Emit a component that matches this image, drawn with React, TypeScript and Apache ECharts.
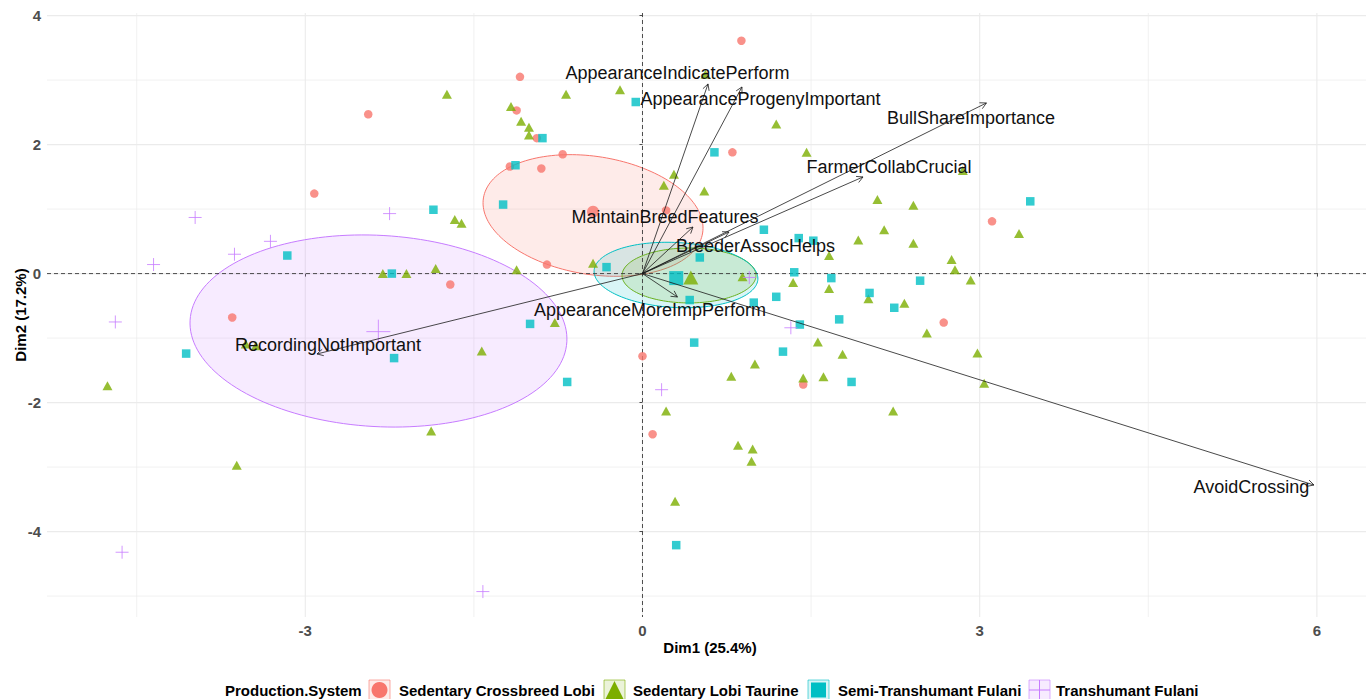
import React, { useEffect, useRef } from "react";
import * as echarts from "echarts";

const FONT = '"Liberation Sans", Arial, Helvetica, sans-serif';

const groupNames = [
  "Sedentary Crossbreed Lobi",
  "Sedentary Lobi Taurine",
  "Semi-Transhumant Fulani",
  "Transhumant Fulani",
];
const groupColors = ["#F8766D", "#7CAE00", "#00BFC4", "#C77CFF"];

const crossbreedLobi: number[][] = [
  [0.88, 3.61], [-1.09, 3.05], [-2.44, 2.47], [-1.12, 2.53], [-0.94, 2.1],
  [0.8, 1.88], [-0.71, 1.85], [-1.18, 1.66], [-0.9, 1.63], [-2.92, 1.24],
  [0.21, 0.98], [-0.85, 0.14], [-1.71, -0.17], [-3.65, -0.68], [0.0, -1.28],
  [0.09, -2.49], [1.43, -1.72], [2.68, -0.76], [3.11, 0.81],
];

const lobiTaurine: number[][] = [
  [-1.74, 2.78], [-0.68, 2.78], [-0.2, 2.85], [0.56, 3.09], [-1.17, 2.59],
  [-1.08, 2.36], [-1.01, 2.27], [-1.01, 2.15], [1.19, 2.32], [1.46, 1.88],
  [0.28, 1.54], [0.19, 1.37], [0.55, 1.28], [2.85, 1.6], [2.09, 1.15],
  [2.41, 1.06], [2.15, 0.68], [1.92, 0.52], [2.41, 0.47], [1.66, 0.28],
  [2.75, 0.22], [2.78, 0.06], [2.92, -0.1], [3.35, 0.62], [0.89, -0.05],
  [1.34, -0.14], [1.66, -0.23], [2.01, -0.39], [2.33, -0.46], [2.53, -0.92],
  [1.56, -1.06], [1.78, -1.25], [2.98, -1.23], [3.04, -1.7], [1.0, -1.4],
  [0.79, -1.59], [1.43, -1.62], [1.61, -1.6], [2.23, -2.13], [0.21, -2.13],
  [0.85, -2.66], [0.98, -2.72], [0.97, -2.91], [0.29, -3.53], [-0.44, 0.16],
  [-1.12, 0.06], [-0.78, -0.76], [-1.43, -1.2], [-1.67, 0.84], [-1.61, 0.78],
  [-1.84, 0.08], [-2.1, 0.0], [-2.31, 0.0], [-3.53, -1.09], [-3.44, -1.12],
  [-4.76, -1.74], [-3.61, -2.97], [-1.88, -2.44],
];

const semiTranshumant: number[][] = [
  [-0.06, 2.66], [-0.89, 2.1], [0.64, 1.88], [-1.13, 1.68], [-1.24, 1.07],
  [-1.86, 0.99], [-3.16, 0.28], [-2.23, 0.0], [-0.32, 0.1], [-1.0, -0.78],
  [-4.06, -1.24], [-2.21, -1.31], [-0.67, -1.68], [0.3, -4.21], [0.51, 0.25],
  [1.08, 0.68], [1.39, 0.55], [1.52, 0.51], [1.35, 0.02], [1.68, -0.07],
  [2.47, -0.11], [2.02, -0.3], [2.24, -0.53], [0.42, -0.41], [1.19, -0.36],
  [0.99, -0.45], [1.75, -0.71], [1.4, -0.79], [0.46, -1.07], [1.25, -1.21],
  [1.86, -1.68], [3.45, 1.12],
];

const transhumant: number[][] = [
  [-3.98, 0.87], [-2.25, 0.93], [-3.31, 0.5], [-3.63, 0.3], [-4.35, 0.14],
  [-4.69, -0.75], [-4.63, -4.32], [-1.42, -4.93], [0.17, -1.8], [1.32, -0.84],
  [0.95, -0.06],
];

const groupMeans: number[][] = [
  [-0.44, 0.96], [0.43, -0.06], [0.3, -0.07], [-2.35, -0.9],
];

// confidence ellipses: centre and two conjugate semi-axis vectors (data units)
const ellipseCenters: number[][] = [
  [-0.44, 0.901], [0.414, -0.029], [0.298, -0.022], [-2.349, -0.89],
];
const ellipseAxisU: number[][] = [
  [0.975, -0.272], [0.596, 0.0], [0.7285, -0.0665], [1.676, -0.167],
];
const ellipseAxisV: number[][] = [
  [-0.083, -0.903], [0.0, -0.426], [-0.0151, -0.5032], [-0.0485, -1.48],
];

const variableNames = [
  "AppearanceIndicatePerform",
  "AppearanceProgenyImportant",
  "BullShareImportance",
  "FarmerCollabCrucial",
  "MaintainBreedFeatures",
  "BreederAssocHelps",
  "AppearanceMoreImpPerform",
  "RecordingNotImportant",
  "AvoidCrossing",
];
const variableCoords: number[][] = [
  [0.583, 2.94], [0.885, 2.893], [3.06, 2.645], [1.962, 1.498], [0.449, 0.722],
  [0.77, 0.645], [0.311, -0.363], [-2.896, -1.246], [5.974, -3.278],
];

const xTicks = [-3, 0, 3, 6];
const yTicks = [-4, -2, 0, 2, 4];
const xMinor = [-4.5, -1.5, 1.5, 4.5];
const yMinor = [-5, -3, -1, 1, 3];

const X_MIN = -5.298;
const X_MAX = 6.437;
const Y_MIN = -5.324;
const Y_MAX = 4.04;

// label offsets (pixels) relative to arrow tips
const labelOffsets: number[][] = [
  [-30.5, -11], [18.5, 12], [-15.5, 15], [26, -10], [-28, -10],
  [26.5, 14], [-27.5, 13], [11, -9], [-62.5, 2],
];

const legendKeyX = [369, 604, 808, 1029];
const legendLabelX = [399, 633, 838, 1056];

function rgba(hex: string, a: number) {
  const r = parseInt(hex.slice(1, 3), 16);
  const g = parseInt(hex.slice(3, 5), 16);
  const b = parseInt(hex.slice(5, 7), 16);
  return `rgba(${r},${g},${b},${a})`;
}

const PLUS = "path://M6,0L6,12M0,6L12,6";
const groupData = [crossbreedLobi, lobiTaurine, semiTranshumant, transhumant];
const groupSymbols = ["circle", "triangle", "rect", PLUS];
const groupSizes: any[] = [8.5, [10, 9], 8.5, 13];
const meanSizes: any[] = [12, [15, 14], 14, 24];
const ELLIPSE_ALPHA = 0.15;

function pointStyle(i: number) {
  if (i === 3) {
    return { color: "rgba(0,0,0,0)", borderColor: groupColors[i], borderWidth: 1 };
  }
  return { color: groupColors[i], borderWidth: 0 };
}

function buildOption() {
  const series: any[] = [];

  // grid lines
  series.push({
    type: "custom",
    z: 0,
    silent: true,
    data: [[0, 0]],
    renderItem: (params: any, api: any) => {
      const cs = params.coordSys;
      const children: any[] = [];
      const vline = (v: number, w: number) => {
        const x = api.coord([v, 0])[0];
        children.push({
          type: "line",
          shape: { x1: x, y1: cs.y, x2: x, y2: cs.y + cs.height },
          style: { stroke: "#EBEBEB", lineWidth: w },
        });
      };
      const hline = (v: number, w: number) => {
        const y = api.coord([0, v])[1];
        children.push({
          type: "line",
          shape: { x1: cs.x, y1: y, x2: cs.x + cs.width, y2: y },
          style: { stroke: "#EBEBEB", lineWidth: w },
        });
      };
      xMinor.forEach((v) => vline(v, 0.7));
      yMinor.forEach((v) => hline(v, 0.7));
      xTicks.forEach((v) => vline(v, 1.1));
      yTicks.forEach((v) => hline(v, 1.1));
      return { type: "group", children };
    },
  });

  // ellipses
  ellipseCenters.forEach((c, gi) => {
    series.push({
      type: "custom",
      z: 2,
      silent: true,
      data: [c],
      renderItem: (params: any, api: any) => {
        const cx = api.value(0);
        const cy = api.value(1);
        const u = ellipseAxisU[gi];
        const v = ellipseAxisV[gi];
        const pts: number[][] = [];
        const n = 160;
        for (let k = 0; k <= n; k++) {
          const t = (k / n) * Math.PI * 2;
          const x = cx + u[0] * Math.cos(t) + v[0] * Math.sin(t);
          const y = cy + u[1] * Math.cos(t) + v[1] * Math.sin(t);
          pts.push(api.coord([x, y]));
        }
        return {
          type: "polygon",
          shape: { points: pts },
          style: { fill: rgba(groupColors[gi], ELLIPSE_ALPHA), stroke: groupColors[gi], lineWidth: 1 },
        };
      },
    });
  });

  // zero lines
  series.push({
    type: "custom",
    z: 3,
    silent: true,
    data: [[0, 0]],
    renderItem: (params: any, api: any) => {
      const cs = params.coordSys;
      const o = api.coord([0, 0]);
      const st = { stroke: "#3a3a3a", lineWidth: 0.9, lineDash: [4, 3] };
      return {
        type: "group",
        children: [
          { type: "line", shape: { x1: o[0], y1: cs.y, x2: o[0], y2: cs.y + cs.height }, style: st },
          { type: "line", shape: { x1: cs.x, y1: o[1], x2: cs.x + cs.width, y2: o[1] }, style: st },
        ],
      };
    },
  });

  // individuals
  groupData.forEach((d, gi) => {
    series.push({
      type: "scatter",
      name: groupNames[gi],
      z: 4,
      data: d,
      symbol: groupSymbols[gi],
      symbolSize: groupSizes[gi],
      itemStyle: pointStyle(gi),
      silent: true,
    });
  });

  // group means
  groupMeans.forEach((m, gi) => {
    series.push({
      type: "scatter",
      name: groupNames[gi] + " mean",
      z: 5,
      data: [m],
      symbol: groupSymbols[gi],
      symbolSize: meanSizes[gi],
      itemStyle: pointStyle(gi),
      silent: true,
    });
  });

  // variable arrows + labels
  series.push({
    type: "custom",
    z: 6,
    silent: true,
    data: variableCoords,
    renderItem: (params: any, api: any) => {
      const idx = params.dataIndex;
      const o = api.coord([0, 0]);
      const p = api.coord([api.value(0), api.value(1)]);
      const dx = p[0] - o[0];
      const dy = p[1] - o[1];
      const len = Math.sqrt(dx * dx + dy * dy) || 1;
      const ux = dx / len;
      const uy = dy / len;
      const L = 7;
      const ang = (28 * Math.PI) / 180;
      const rot = (a: number) => [ux * Math.cos(a) - uy * Math.sin(a), ux * Math.sin(a) + uy * Math.cos(a)];
      const r1 = rot(ang);
      const r2 = rot(-ang);
      const off = labelOffsets[idx];
      return {
        type: "group",
        children: [
          {
            type: "line",
            shape: { x1: o[0], y1: o[1], x2: p[0], y2: p[1] },
            style: { stroke: "#1a1a1a", lineWidth: 0.8 },
          },
          {
            type: "polyline",
            shape: {
              points: [
                [p[0] - L * r1[0], p[1] - L * r1[1]],
                [p[0], p[1]],
                [p[0] - L * r2[0], p[1] - L * r2[1]],
              ],
            },
            style: { stroke: "#1a1a1a", lineWidth: 0.8, fill: "none" },
          },
          {
            type: "text",
            x: p[0] + off[0],
            y: p[1] + off[1],
            style: {
              text: variableNames[idx],
              font: `18px ${FONT}`,
              fill: "#111111",
              align: "center",
              verticalAlign: "middle",
            },
          },
        ],
      };
    },
  });

  // legend graphic
  const graphics: any[] = [];
  const LY = 690;
  graphics.push({
    type: "text",
    x: 225,
    y: LY,
    style: { text: "Production.System", font: `bold 15px ${FONT}`, fill: "#000", verticalAlign: "middle" },
  });
  groupNames.forEach((name, gi) => {
    const kx = legendKeyX[gi];
    const col = groupColors[gi];
    const kw = 21;
    const kh = 20;
    const ky = LY - kh / 2;
    const cx = kx + kw / 2;
    graphics.push({
      type: "rect",
      shape: { x: kx, y: ky, width: kw, height: kh },
      style: { fill: rgba(col, ELLIPSE_ALPHA), stroke: rgba(col, 0.6), lineWidth: 1 },
    });
    if (gi === 0) {
      graphics.push({ type: "circle", shape: { cx, cy: LY, r: 8 }, style: { fill: col } });
    } else if (gi === 1) {
      graphics.push({
        type: "polygon",
        shape: { points: [[cx, ky + 1], [cx - 9, ky + kh - 1], [cx + 9, ky + kh - 1]] },
        style: { fill: col },
      });
    } else if (gi === 2) {
      graphics.push({ type: "rect", shape: { x: cx - 7.5, y: LY - 7.5, width: 15, height: 15 }, style: { fill: col } });
    } else {
      graphics.push({ type: "line", shape: { x1: cx, y1: ky, x2: cx, y2: ky + kh }, style: { stroke: col, lineWidth: 1 } });
      graphics.push({ type: "line", shape: { x1: kx, y1: LY, x2: kx + kw, y2: LY }, style: { stroke: col, lineWidth: 1 } });
    }
    graphics.push({
      type: "text",
      x: legendLabelX[gi],
      y: LY,
      style: { text: name, font: `bold 15px ${FONT}`, fill: "#000", verticalAlign: "middle" },
    });
  });

  const axisLabelStyle = {
    color: "#4D4D4D",
    fontSize: 15,
    fontWeight: "bold",
    fontFamily: FONT,
  };

  return {
    animation: false,
    backgroundColor: "#ffffff",
    grid: { left: 47, top: 13, width: 1319, height: 604, containLabel: false, outerBoundsMode: "none" },
    xAxis: {
      type: "value",
      min: X_MIN,
      max: X_MAX,
      splitLine: { show: false },
      axisLine: { show: false },
      axisTick: { show: true, length: 3, lineStyle: { color: "#4D4D4D", width: 1 }, customValues: xTicks },
      axisLabel: { ...axisLabelStyle, margin: 6, customValues: xTicks },
      name: "Dim1 (25.4%)",
      nameLocation: "middle",
      nameGap: 23,
      nameMoveOverlap: false,
      nameTextStyle: { color: "#000", fontSize: 15, fontWeight: "bold", fontFamily: FONT, padding: [0, 0, 0, 7] },
    },
    yAxis: {
      type: "value",
      min: Y_MIN,
      max: Y_MAX,
      splitLine: { show: false },
      axisLine: { show: false },
      axisTick: { show: true, length: 3, lineStyle: { color: "#4D4D4D", width: 1 }, customValues: yTicks },
      axisLabel: { ...axisLabelStyle, margin: 6, customValues: yTicks },
      name: "Dim2 (17.2%)",
      nameLocation: "middle",
      nameRotate: 90,
      nameGap: 19,
      nameMoveOverlap: false,
      nameTextStyle: { color: "#000", fontSize: 15, fontWeight: "bold", fontFamily: FONT },
    },
    graphic: graphics,
    series,
  };
}

export default function App() {
  const ref = useRef<HTMLDivElement>(null);
  useEffect(() => {
    if (!ref.current) return;
    const chart = echarts.init(ref.current, null, { renderer: "svg" });
    chart.setOption(buildOption() as any);
    return () => {
      chart.dispose();
    };
  }, []);
  return (
    <div
      ref={ref}
      style={{ position: "fixed", left: 0, top: 0, width: "1368px", height: "699px", background: "#fff" }}
    />
  );
}
